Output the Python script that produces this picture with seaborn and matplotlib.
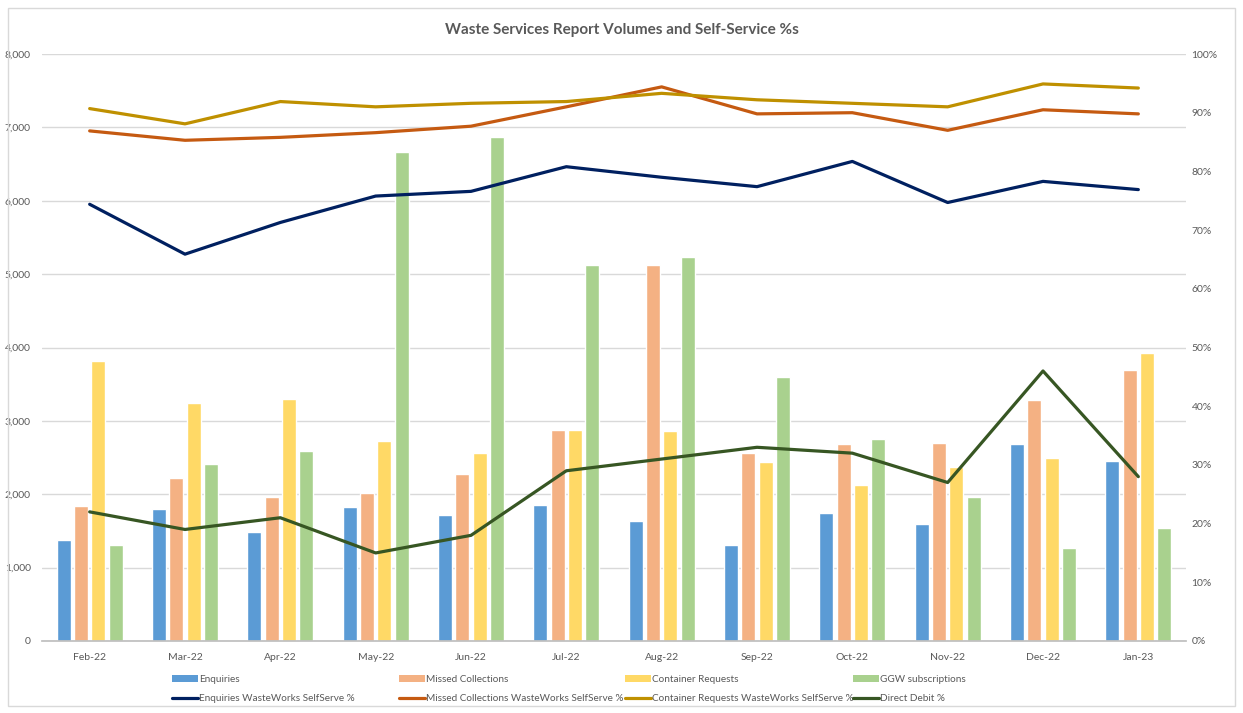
import numpy as np
import pandas as pd
import matplotlib
matplotlib.use("Agg")
import matplotlib.pyplot as plt
import seaborn as sns
from matplotlib.patches import Patch, Rectangle
from matplotlib.lines import Line2D
from matplotlib.ticker import FuncFormatter, PercentFormatter

sns.set_theme(style="white")
plt.rcParams['font.family'] = ['Lato', 'DejaVu Sans']

# data
months = ['Feb-22', 'Mar-22', 'Apr-22', 'May-22', 'Jun-22', 'Jul-22',
          'Aug-22', 'Sep-22', 'Oct-22', 'Nov-22', 'Dec-22', 'Jan-23']

enquiries = [1380, 1800, 1490, 1820, 1720, 1860, 1630, 1310, 1740, 1600, 2680, 2450]
missed = [1840, 2220, 1960, 2020, 2270, 2880, 5130, 2560, 2690, 2700, 3280, 3690]
container = [3810, 3240, 3300, 2730, 2560, 2880, 2860, 2440, 2120, 2370, 2500, 3930]
ggw = [1310, 2410, 2590, 6660, 6870, 5130, 5230, 3600, 2750, 1960, 1270, 1540]

enq_pct = [74.4, 65.9, 71.3, 75.8, 76.6, 80.8, 79.0, 77.4, 81.7, 74.7, 78.3, 76.9]
missed_pct = [86.9, 85.3, 85.8, 86.6, 87.7, 91.0, 94.4, 89.8, 90.0, 87.0, 90.5, 89.8]
container_pct = [90.7, 88.1, 91.9, 91.0, 91.6, 91.9, 93.3, 92.2, 91.6, 91.0, 94.9, 94.2]
dd_pct = [22, 19, 21, 15, 18, 29, 31, 33, 32, 27, 46, 28]

bar_names = ['Enquiries', 'Missed Collections', 'Container Requests', 'GGW subscriptions']
bar_colors = ['#5B9BD5', '#F4B183', '#FFD966', '#A9D18E']
line_names = ['Enquiries WasteWorks SelfServe %', 'Missed Collections WasteWorks SelfServe %',
              'Container Requests WasteWorks SelfServe %', 'Direct Debit %']
line_colors = ['#002060', '#C55A11', '#BF9000', '#375623']

grey = '#595959'

bars = pd.DataFrame({
    'month': months * 4,
    'series': sum([[n] * 12 for n in bar_names], []),
    'value': enquiries + missed + container + ggw,
})

fig = plt.figure(figsize=(12.43, 7.13), dpi=100)
ax = fig.add_axes([42 / 1243, 1 - 641 / 713, (1186 - 42) / 1243, (641 - 54) / 713])

sns.barplot(data=bars, x='month', y='value', hue='series', hue_order=bar_names,
            palette=bar_colors, width=0.73, gap=0.2, ax=ax, legend=False,
            saturation=1)

ax.set_xlim(-0.5, 11.5)
ax.set_ylim(0, 8000)
ax.set_yticks(range(0, 8001, 1000))
ax.yaxis.set_major_formatter(FuncFormatter(lambda v, p: f'{int(v):,}'))
ax.grid(axis='y', color='#D9D9D9', linewidth=1)
ax.set_axisbelow(True)
ax.set_xlabel('')
ax.set_ylabel('')
for s in ['top', 'right', 'left']:
    ax.spines[s].set_visible(False)
ax.spines['bottom'].set_color('#BFBFBF')
ax.tick_params(axis='y', colors=grey, labelsize=7.5, length=0, pad=8)
ax.tick_params(axis='x', colors=grey, labelsize=7.5, length=0, pad=9)
ax.set_xticks(np.arange(-0.5, 12, 1), minor=True)
ax.tick_params(axis='x', which='minor', length=4, color='#BFBFBF', width=1)

ax2 = ax.twinx()
x = np.arange(len(months))
for vals, c in zip([enq_pct, missed_pct, container_pct, dd_pct], line_colors):
    sns.lineplot(x=x, y=np.array(vals) / 100, color=c, linewidth=2.3, ax=ax2,
                 sort=False)
ax2.set_ylim(0, 1)
ax2.set_yticks(np.arange(0, 1.01, 0.1))
ax2.yaxis.set_major_formatter(PercentFormatter(1.0, decimals=0))
ax2.tick_params(axis='y', colors=grey, labelsize=7.5, length=0, pad=4)
for s in ['top', 'right', 'left', 'bottom']:
    ax2.spines[s].set_visible(False)
ax2.grid(False)
ax2.set_xlim(-0.5, 11.5)

fig.text(0.5, 1 - 30 / 713, 'Waste Services Report Volumes and Self-Service %s',
         ha='center', va='center', fontsize=11, fontweight='bold', color=grey)

# legend: four columns, bars on top row, lines below
col_x = [172, 399, 625, 853]
for i in range(4):
    handles = [Patch(facecolor=bar_colors[i], edgecolor='none'),
               Line2D([0], [0], color=line_colors[i], linewidth=2.3)]
    fig.legend(handles, [bar_names[i], line_names[i]], loc='upper left',
               bbox_to_anchor=(col_x[i] / 1243, 1 - 675 / 713), frameon=False,
               fontsize=7.2, labelcolor=grey, handlelength=2.6, handleheight=0.7,
               handletextpad=0.1, labelspacing=1.0, borderpad=0, borderaxespad=0)

fig.patches.append(Rectangle((8 / 1243, 1 - 706 / 713), 1227 / 1243, 698 / 713,
                             transform=fig.transFigure, fill=False,
                             edgecolor='#D9D9D9', linewidth=1))

plt.savefig('out.png', dpi=100)
